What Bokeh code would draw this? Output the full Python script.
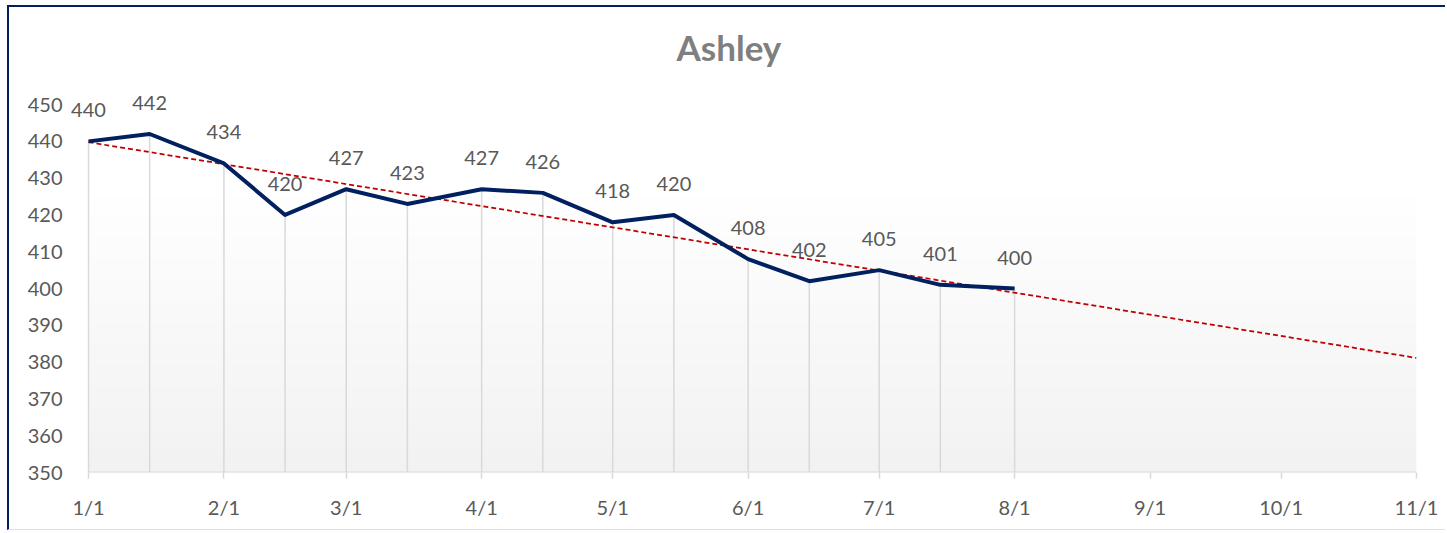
import numpy as np
import pandas as pd
from bokeh.plotting import figure
from bokeh.models import Range1d, FixedTicker, ColumnDataSource, LabelSet
from bokeh.core.properties import value
from bokeh.embed import file_html
from bokeh.resources import INLINE

title_text = "Ashley"
dates = ["2019-01-01", "2019-01-15", "2019-02-01", "2019-02-15", "2019-03-01", "2019-03-15",
         "2019-04-01", "2019-04-15", "2019-05-01", "2019-05-15", "2019-06-01", "2019-06-15",
         "2019-07-01", "2019-07-15", "2019-08-01"]
values = [440, 442, 434, 420, 427, 423, 427, 426, 418, 420, 408, 402, 405, 401, 400]
tick_dates = ["2019-01-01", "2019-02-01", "2019-03-01", "2019-04-01", "2019-05-01", "2019-06-01",
              "2019-07-01", "2019-08-01", "2019-09-01", "2019-10-01", "2019-11-01"]
tick_labels = ["1/1", "2/1", "3/1", "4/1", "5/1", "6/1", "7/1", "8/1", "9/1", "10/1", "11/1"]
y_ticks = list(range(350, 451, 10))

FONT = "Lato"
DAY = 86400000.0
x = pd.to_datetime(dates)
t = pd.to_datetime(tick_dates)
x_ms = (x.astype("int64") // 10**6).to_numpy().astype(float)
t_ms = (t.astype("int64") // 10**6).to_numpy().astype(float)

# frame extends a little beyond the axis ranges so the data labels are not clipped
pad_days = 20 * (t_ms[-1] - t_ms[0]) / DAY / 1328.0
p = figure(width=1438, height=525, x_axis_type="datetime", output_backend="svg",
           toolbar_location=None, x_range=Range1d(t_ms[0] - pad_days * DAY, t_ms[-1]),
           y_range=Range1d(350, 456), min_border_left=59, min_border_right=31,
           min_border_top=75, min_border_bottom=60, background_fill_color="white",
           border_fill_color="white", outline_line_color=None)
p.styles = {"margin-left": "7px", "margin-top": "5px",
            "border-left": "2px solid #002060", "border-top": "2px solid #002060",
            "border-bottom": "1px solid #e0e0e0"}

p.title.text = title_text
p.title.align = "left"
p.title.offset = 608
p.title.text_font = FONT
p.title.text_font_size = "35px"
p.title.text_font_style = "bold"
p.title.text_color = "#7f7f7f"
p.title.standoff = 30

# gradient background of plot area (350..450)
n = 200
g = np.concatenate([np.linspace(242, 255, int(n * 0.75)), np.full(n - int(n * 0.75), 255.0)])
img = np.zeros((n, 1), dtype=np.uint32)
view = img.view(dtype=np.uint8).reshape((n, 1, 4))
view[:, 0, 0] = g.astype(np.uint8)
view[:, 0, 1] = g.astype(np.uint8)
view[:, 0, 2] = g.astype(np.uint8)
view[:, 0, 3] = 255
p.image_rgba(image=[img], x=t_ms[0], y=350, dw=t_ms[-1] - t_ms[0], dh=100)

src = ColumnDataSource(dict(x=x_ms, y=values, base=[350] * len(values),
                            lab=[str(v) for v in values]))

# drop lines
p.segment(x0="x", y0="base", x1="x", y1="y", source=src, line_color="#d9d9d9", line_width=1.5)

# x axis line from 1/1 to 11/1
p.segment(x0=[t_ms[0]], y0=[350], x1=[t_ms[-1]], y1=[350], line_color="#d9d9d9", line_width=2)

# trendline (linear fit, forecast to 11/1)
days = (x_ms - x_ms[0]) / DAY
coef = np.polyfit(days, np.array(values, dtype=float), 1)
tx = np.array([t_ms[0], t_ms[-1]])
ty = np.polyval(coef, (tx - x_ms[0]) / DAY)
p.line(tx, ty, line_color="#c00000", line_width=1.75, line_dash="5 3")

# main line
p.line(x="x", y="y", source=src, line_color="#002060", line_width=4, line_join="round")

# data labels
labels = LabelSet(x="x", y="y", text="lab", source=src, y_offset=31, text_align="center",
                  text_baseline="middle", text_font=value(FONT), text_font_size="20px",
                  text_color="#595959")
p.add_layout(labels)

# axes
p.xgrid.grid_line_color = None
p.ygrid.grid_line_color = None

xa = p.xaxis[0]
xa.ticker = FixedTicker(ticks=list(t_ms))
xa.major_label_overrides = {float(k): v for k, v in zip(t_ms, tick_labels)}
xa.axis_line_color = None
xa.major_tick_line_color = "#d9d9d9"
xa.major_tick_line_width = 1.5
xa.major_tick_in = 0
xa.major_tick_out = 6
xa.minor_tick_line_color = None
xa.major_label_text_font = FONT
xa.major_label_text_font_size = "20px"
xa.major_label_text_color = "#595959"
xa.major_label_standoff = 16

ya = p.yaxis[0]
ya.ticker = FixedTicker(ticks=y_ticks)
ya.axis_line_color = None
ya.major_tick_line_color = None
ya.minor_tick_line_color = None
ya.major_tick_out = 0
ya.major_label_text_font = FONT
ya.major_label_text_font_size = "20px"
ya.major_label_text_color = "#595959"
ya.major_label_standoff = 6

open("out.html", "w").write(file_html(p, INLINE))
